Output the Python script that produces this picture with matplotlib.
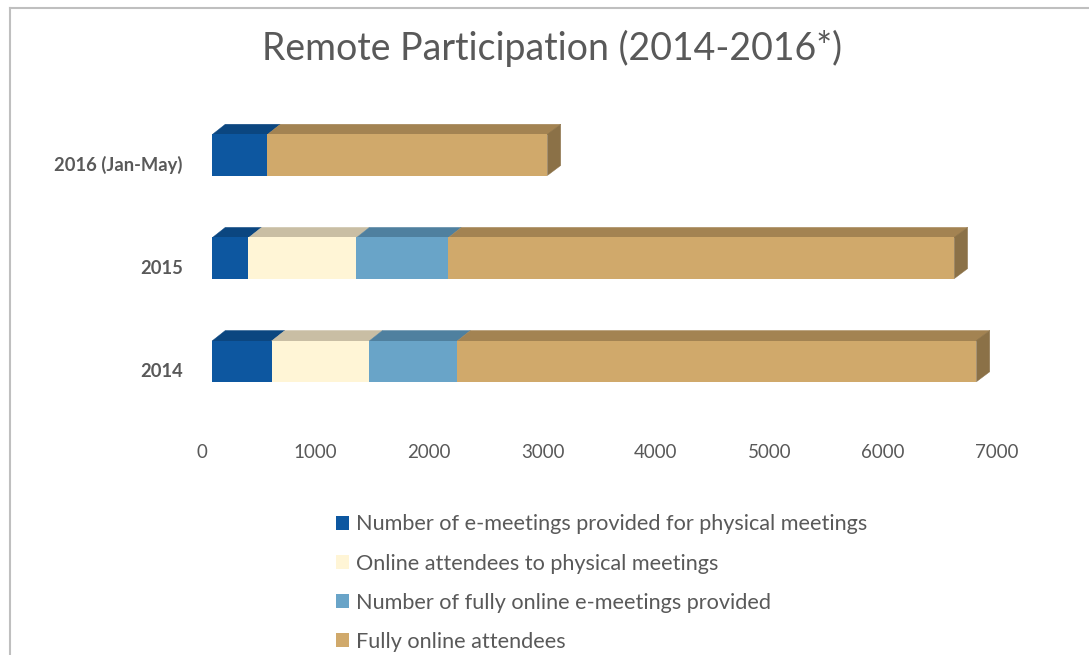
import numpy as np
import matplotlib.pyplot as plt
from matplotlib.patches import Polygon, Patch
from matplotlib.lines import Line2D
from matplotlib.transforms import ScaledTranslation

plt.rcParams['font.family'] = ['Lato', 'DejaVu Sans']

# data
categories = ['2014', '2015', '2016 (Jan-May)']
emeetings_physical = [525, 320, 485]
online_attendees_physical = [860, 950, 0]
fully_online_emeetings = [775, 810, 0]
fully_online_attendees = [4575, 4460, 2470]
series_names = ['Number of e-meetings provided for physical meetings',
                'Online attendees to physical meetings',
                'Number of fully online e-meetings provided',
                'Fully online attendees']
x_ticks = [0, 1000, 2000, 3000, 4000, 5000, 6000, 7000]

front_colors = ['#0d57a0', '#fff5d6', '#69a4c8', '#d0a96b']
top_colors = ['#0b4680', '#c9bea4', '#4f809f', '#a38352']
side_color = '#8b7147'
grey = '#595959'

W, H = 1089, 655
fig = plt.figure(figsize=(W / 100, H / 100), dpi=100)
ax = fig.add_axes([212 / W, 1 - 423 / H, 794.5 / W, 330 / H])
ax.set_xlim(0, 7000)
ax.set_ylim(-0.6, 2.6)

h = 0.4
# depth of the fake 3d in data units (13 px right, 10 px up)
ddx = 13.3 / 794.5 * 7000
ddy = 10 / 330 * 3.2

y = np.arange(len(categories))
series = [emeetings_physical, online_attendees_physical,
          fully_online_emeetings, fully_online_attendees]
left = np.zeros(len(categories))
for vals, fc, tc in zip(series, front_colors, top_colors):
    vals = np.array(vals, dtype=float)
    for yi, l, v in zip(y, left, vals):
        if v <= 0:
            continue
        yt = yi + h / 2
        top = [(l, yt - 0.005), (l + v, yt - 0.005), (l + v + ddx, yt + ddy), (l + ddx, yt + ddy)]
        ax.add_patch(Polygon(top, closed=True, facecolor=tc, edgecolor=tc, linewidth=0.3))
    ax.barh(y, vals, left=left, height=h, color=fc, linewidth=0)
    left = left + vals

# right end face of each bar
for yi, r in zip(y, left):
    yb = yi - h / 2
    yt = yi + h / 2
    side = [(r, yb), (r, yt), (r + ddx, yt + ddy), (r + ddx, yb + ddy)]
    ax.add_patch(Polygon(side, closed=True, facecolor=side_color, edgecolor=side_color, linewidth=0.3))

for s in ax.spines.values():
    s.set_visible(False)
ax.set_xticks(x_ticks)
ax.set_yticks(y)
ax.set_yticklabels(categories, fontweight='bold')
ax.tick_params(axis='both', length=0, colors=grey)
ax.tick_params(axis='x', labelsize=13.5, pad=15)
ax.tick_params(axis='y', labelsize=13.2, pad=21)

# labels sit on the "floor", a bit left and below the bar fronts
for lab in ax.get_xticklabels():
    lab.set_transform(lab.get_transform() + ScaledTranslation(-0.10, 0, fig.dpi_scale_trans))
for lab in ax.get_yticklabels():
    lab.set_transform(lab.get_transform() + ScaledTranslation(0, -0.09, fig.dpi_scale_trans))

fig.text(552 / W, 1 - 48 / H, 'Remote Participation (2014-2016*)', ha='center', va='center',
         fontsize=27, color=grey)

handles = [Patch(facecolor=c, edgecolor='none') for c in front_colors]
fig.legend(handles, series_names, loc='upper left', bbox_to_anchor=(316 / W, 1 - 495 / H),
           frameon=False, fontsize=15.6, labelcolor=grey, handlelength=0.6, handleheight=0.6,
           handletextpad=0.35, labelspacing=0.88)

# chart frame (only left and top edges show in the crop)
fig.add_artist(Line2D([10 / W, 10 / W], [0, 1 - 8 / H], color='#bfbfbf', lw=1.5))
fig.add_artist(Line2D([10 / W, 1], [1 - 8 / H, 1 - 8 / H], color='#bfbfbf', lw=1.5))

fig.savefig('out.png', dpi=100)
